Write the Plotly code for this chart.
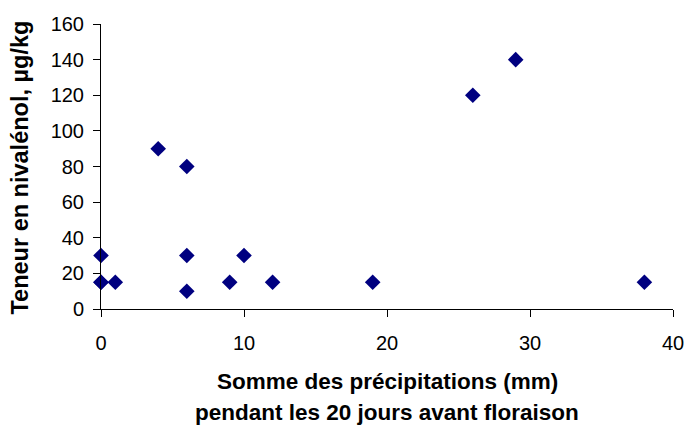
import plotly.graph_objects as go

precip_mm = [0, 0, 0, 1, 4, 6, 6, 6, 9, 10, 12, 19, 26, 29, 38]
nivalenol = [30, 15, 15, 15, 90, 80, 30, 10, 15, 30, 15, 15, 120, 140, 15]

x_ticks = [0, 10, 20, 30, 40]
y_ticks = [0, 20, 40, 60, 80, 100, 120, 140, 160]

x_title_1 = "Somme des précipitations (mm)"
x_title_2 = "pendant les 20 jours avant floraison"
y_title = "Teneur en nivalénol, µg/kg"

font_family = "Liberation Sans, Arial, sans-serif"

fig = go.Figure()
fig.add_trace(go.Scatter(
    x=precip_mm, y=nivalenol, mode="markers",
    marker=dict(symbol="diamond", size=12, color="#000080"),
    cliponaxis=False, showlegend=False,
))

title_font = dict(family=font_family, size=22.5, color="black")

fig.update_layout(
    width=696, height=426,
    margin=dict(l=101, r=16, t=24, b=117),
    paper_bgcolor="white", plot_bgcolor="white",
    font=dict(family=font_family, size=20, color="black"),
    xaxis=dict(
        range=[0, 40], tickvals=x_ticks, showgrid=False, zeroline=False,
        showline=True, linecolor="black", linewidth=1,
        ticks="outside", ticklen=7, tickcolor="black",
        tickfont=dict(size=20), ticklabelstandoff=9,
    ),
    yaxis=dict(
        range=[0, 160], tickvals=y_ticks, showgrid=False, zeroline=False,
        showline=True, linecolor="black", linewidth=1,
        ticks="outside", ticklen=7, tickcolor="black",
        tickfont=dict(size=20), ticklabelstandoff=5,
    ),
    annotations=[
        dict(text="<b>" + x_title_1 + "</b>", xref="paper", yref="paper",
             x=0.5, y=0, yshift=-72, xanchor="center", yanchor="middle",
             showarrow=False, font=title_font),
        dict(text="<b>" + x_title_2 + "</b>", xref="paper", yref="paper",
             x=0.5, y=0, yshift=-103, xanchor="center", yanchor="middle",
             showarrow=False, font=title_font),
        dict(text="<b>" + y_title + "</b>", xref="paper", yref="paper",
             x=0, xshift=-82, y=0.5, yshift=-1, xanchor="center", yanchor="middle",
             textangle=-90, showarrow=False,
             font=dict(family=font_family, size=23.5, color="black")),
    ],
)

fig.write_html("out.html", config={"displayModeBar": False},
               post_script="document.body.style.margin='0';")
